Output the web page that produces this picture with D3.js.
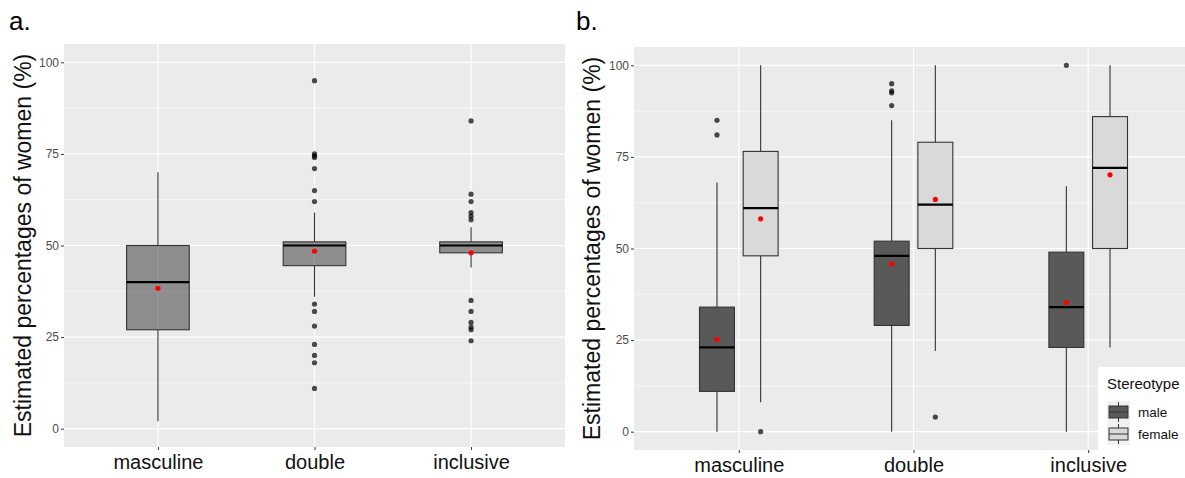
<!DOCTYPE html>
<html lang="en">
<head>
<meta charset="UTF-8">
<title>Estimated percentages of women</title>
<script src="https://d3js.org/d3.v7.min.js"></script>
<style>
  body { margin: 0; background: #fff; }
  svg { display: block; font-family: Arial, "Liberation Sans", sans-serif; }
</style>
</head>
<body>
<svg width="1185" height="478"></svg>
<script>
// categories and tick labels
const forms = ["masculine", "double", "inclusive"];
const stereotypes = ["male", "female"];
const yTicks = [0, 25, 50, 75, 100];

// panel a: box stats per form [low whisker, q1, median, q3, high whisker], mean, outliers
const statsA = [[2, 27, 40, 50, 70], [36, 44.5, 50, 51, 59], [44, 48, 50, 51, 55]];
const meansA = [38.3, 48.5, 48];
const outliersA = [
  [],
  [95, 75, 74.5, 74, 71, 65, 62, 34, 32, 28, 23, 20, 18, 11],
  [84, 64, 62, 59, 58, 57, 35, 32, 29, 27.7, 27, 24]
];

// panel b: male/female per form
const statsMale = [[0, 11, 23, 34, 68], [0, 29, 48, 52, 85], [0, 23, 34, 49, 67]];
const statsFemale = [[8, 48, 61, 76.5, 100], [22, 50, 62, 79, 100], [23, 50, 72, 86, 100]];
const meansMale = [25.2, 45.8, 35.2];
const meansFemale = [58.1, 63.4, 70.1];
const outliersMale = [[85, 81], [95, 93, 92.5, 89], [100]];
const outliersFemale = [[0], [4], []];

const svg = d3.select("svg");
const fills = { male: "#595959", female: "#d9d9d9" };

function panel(opts) {
  const g = svg.append("g");
  const y = d3.scaleLinear().domain([-5, 105]).range([opts.bottom, opts.top]);
  // ggplot discrete spacing: 0.6 unit at each end
  const unit = (opts.right - opts.left) / 3.2;
  const x = d3.scalePoint().domain(forms).range([opts.left + 0.6 * unit, opts.left + 2.6 * unit]);

  g.append("rect").attr("x", opts.left).attr("y", opts.top)
    .attr("width", opts.right - opts.left).attr("height", opts.bottom - opts.top)
    .attr("fill", "#ebebeb");

  const minor = d3.range(-12.5, 113, 25).filter(v => v > -5 && v < 105);
  g.selectAll(".minor").data(minor).join("line")
    .attr("x1", opts.left).attr("x2", opts.right)
    .attr("y1", d => y(d)).attr("y2", d => y(d))
    .attr("stroke", "#fff").attr("stroke-width", 0.6);
  g.selectAll(".major").data(yTicks).join("line")
    .attr("x1", opts.left).attr("x2", opts.right)
    .attr("y1", d => y(d)).attr("y2", d => y(d))
    .attr("stroke", "#fff").attr("stroke-width", 1.2);
  g.selectAll(".vmajor").data(forms).join("line")
    .attr("x1", d => x(d)).attr("x2", d => x(d))
    .attr("y1", opts.top).attr("y2", opts.bottom)
    .attr("stroke", "#fff").attr("stroke-width", 1.2);

  // y axis
  const ya = g.append("g").attr("transform", `translate(${opts.left},0)`)
    .call(d3.axisLeft(y).tickValues(yTicks).tickSize(3).tickPadding(2));
  ya.attr("font-family", null).attr("font-size", null).style("color", "#4d4d4d");
  ya.select(".domain").remove();
  ya.selectAll(".tick line").style("stroke", "#333");
  ya.selectAll(".tick text").style("fill", "#4d4d4d").style("font-size", "12px");

  // x axis
  const xa = g.append("g").attr("transform", `translate(0,${opts.bottom})`)
    .call(d3.axisBottom(x).tickSize(3).tickPadding(5));
  xa.attr("font-family", null).attr("font-size", null);
  xa.select(".domain").remove();
  xa.selectAll(".tick line").style("stroke", "#333");
  xa.selectAll(".tick text").style("fill", "#111").style("font-size", "20px");

  g.append("text")
    .attr("transform", `translate(${opts.titleX},${(opts.top + opts.bottom) / 2}) rotate(-90)`)
    .attr("text-anchor", "middle").style("font-size", "23px").attr("fill", "#111")
    .text("Estimated percentages of women (%)");

  svg.append("text").attr("x", opts.labelX).attr("y", 30)
    .style("font-size", "26px").attr("fill", "#000").text(opts.label);

  return { g, y, unit, x };
}

function drawBox(g, y, xc, w, s, fill, fillOpacity, mean, outs) {
  g.append("line").attr("x1", xc).attr("x2", xc).attr("y1", y(s[0])).attr("y2", y(s[1]))
    .attr("stroke", "#333").attr("stroke-width", 1.1);
  g.append("line").attr("x1", xc).attr("x2", xc).attr("y1", y(s[3])).attr("y2", y(s[4]))
    .attr("stroke", "#333").attr("stroke-width", 1.1);
  g.append("rect").attr("x", xc - w / 2).attr("y", y(s[3]))
    .attr("width", w).attr("height", y(s[1]) - y(s[3]))
    .attr("fill", fill).attr("fill-opacity", fillOpacity)
    .attr("stroke", "#333").attr("stroke-width", 1.1);
  g.append("line").attr("x1", xc - w / 2).attr("x2", xc + w / 2)
    .attr("y1", y(s[2])).attr("y2", y(s[2]))
    .attr("stroke", "#000").attr("stroke-width", 2.2);
  g.selectAll(null).data(outs).join("circle")
    .attr("cx", xc).attr("cy", d => y(d)).attr("r", 2.6)
    .attr("fill", "#000").attr("fill-opacity", 0.7);
  g.append("circle").attr("cx", xc).attr("cy", y(mean)).attr("r", 2.6).attr("fill", "#ff0000");
}

// panel a
const pa = panel({ left: 64, right: 565, top: 44, bottom: 447, titleX: 31, labelX: 9, label: "a." });
forms.forEach((f, i) => {
  drawBox(pa.g, pa.y, pa.x(f), pa.unit * 0.4, statsA[i], "#000", 0.4, meansA[i], outliersA[i]);
});

// panel b
const pb = panel({ left: 634, right: 1193, top: 47, bottom: 450, titleX: 600, labelX: 576, label: "b." });
forms.forEach((f, i) => {
  const off = pb.unit * 0.125, w = pb.unit * 0.2;
  drawBox(pb.g, pb.y, pb.x(f) - off, w, statsMale[i], fills.male, 1, meansMale[i], outliersMale[i]);
  drawBox(pb.g, pb.y, pb.x(f) + off, w, statsFemale[i], fills.female, 1, meansFemale[i], outliersFemale[i]);
});

// legend
const lg = svg.append("g").attr("transform", "translate(1098,367)");
lg.append("rect").attr("width", 90).attr("height", 85).attr("fill", "#fff");
lg.append("text").attr("x", 9).attr("y", 22).style("font-size", "15px").attr("fill", "#111").text("Stereotype");
stereotypes.forEach((s, i) => {
  const ky = 34 + i * 22;
  const k = lg.append("g").attr("transform", `translate(9,${ky})`);
  k.append("rect").attr("width", 23).attr("height", 22).attr("fill", "#f2f2f2");
  k.append("line").attr("x1", 11.5).attr("x2", 11.5).attr("y1", 1).attr("y2", 21).attr("stroke", "#333");
  k.append("rect").attr("x", 2).attr("y", 5).attr("width", 19).attr("height", 12)
    .attr("fill", fills[s]).attr("stroke", "#333");
  k.append("line").attr("x1", 2).attr("x2", 21).attr("y1", 11).attr("y2", 11).attr("stroke", "#333");
  lg.append("text").attr("x", 40).attr("y", ky + 16).style("font-size", "13.5px").attr("fill", "#111").text(s);
});
</script>
</body>
</html>
